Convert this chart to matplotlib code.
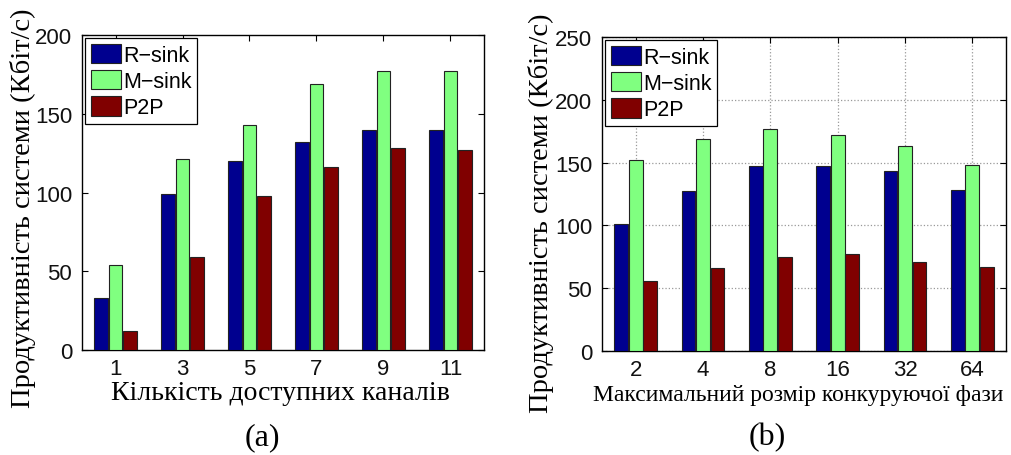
import numpy as np
import matplotlib
matplotlib.use("Agg")
import matplotlib.pyplot as plt

# panel (a): number of available channels
channels = ["1", "3", "5", "7", "9", "11"]
a_rsink = [33, 99, 120, 132, 140, 140]
a_msink = [54, 121, 143, 169, 177, 177]
a_p2p = [12, 59, 98, 116, 128, 127]

# panel (b): max contention phase size
phase = ["2", "4", "8", "16", "32", "64"]
b_rsink = [101, 127, 147, 147, 143, 128]
b_msink = [152, 169, 177, 172, 163, 148]
b_p2p = [56, 66, 75, 77, 71, 67]

series_names = ["R\u2212sink", "M\u2212sink", "P2P"]
colors = ["#00008F", "#80FF80", "#800000"]

W, H = 1012, 456
fig = plt.figure(figsize=(W / 100, H / 100), dpi=100)

sans = ["Liberation Sans", "DejaVu Sans"]
serif = ["Liberation Serif", "DejaVu Serif"]


def px_axes(x0, x1, ytop, ybot):
    return fig.add_axes([x0 / W, (H - ybot) / H, (x1 - x0) / W, (ybot - ytop) / H])


def draw(ax, labels, data, ymax, grid):
    x = np.arange(len(labels))
    width = 0.205
    offs = [-0.215, 0.0, 0.215]
    for vals, off, c, name in zip(data, offs, colors, series_names):
        ax.bar(x + off, vals, width, color=c, edgecolor="#222222",
               linewidth=0.8, label=name, zorder=3)
    ax.set_xlim(-0.5, len(labels) - 0.5)
    ax.set_ylim(0, ymax)
    ax.set_yticks(np.arange(0, ymax + 1, 50))
    ax.set_xticks(x)
    ax.set_xticklabels(labels)
    ax.tick_params(direction="in", top=True, right=True, length=4,
                   width=0.8, labelsize=16, labelcolor="#111111")
    ax.tick_params(axis="y", pad=7)
    ax.tick_params(axis="x", pad=6)
    for lab in ax.get_xticklabels() + ax.get_yticklabels():
        lab.set_family(sans)
    for s in ax.spines.values():
        s.set_linewidth(1.0)
    if grid:
        ax.grid(True, linestyle=":", color="#999999", linewidth=0.9, zorder=0)
        ax.set_axisbelow(True)
    leg = ax.legend(loc="upper left", prop={"family": sans, "size": 15.5},
                    fancybox=False, framealpha=1, edgecolor="black",
                    borderaxespad=0.15, borderpad=0.25, handlelength=1.4,
                    handleheight=1.0, handletextpad=0.1, labelspacing=0.2)
    leg.get_frame().set_linewidth(0.9)


ax1 = px_axes(82, 484, 36, 351)
draw(ax1, channels, [a_rsink, a_msink, a_p2p], 200, False)

ax2 = px_axes(602, 1006, 38, 352)
draw(ax2, phase, [b_rsink, b_msink, b_p2p], 250, True)

ylab = "Продуктивність системи (Кбіт/с)"
fig.text(23 / W, 1 - 208 / H, ylab, rotation=90, ha="center", va="center",
         family=serif, fontsize=20.5)
fig.text(541 / W, 1 - 213 / H, ylab, rotation=90, ha="center", va="center",
         family=serif, fontsize=20.5)

fig.text(280 / W, 1 - 394 / H, "Кількість доступних каналів", ha="center",
         va="center", family=serif, fontsize=20)
fig.text(798 / W, 1 - 396 / H, "Максимальний розмір конкуруючої фази",
         ha="center", va="center", family=serif, fontsize=17)

fig.text(262 / W, 1 - 438 / H, "(a)", ha="center", va="center",
         family=serif, fontsize=23)
fig.text(767 / W, 1 - 438 / H, "(b)", ha="center", va="center",
         family=serif, fontsize=23)

fig.savefig("out.png", dpi=100)
